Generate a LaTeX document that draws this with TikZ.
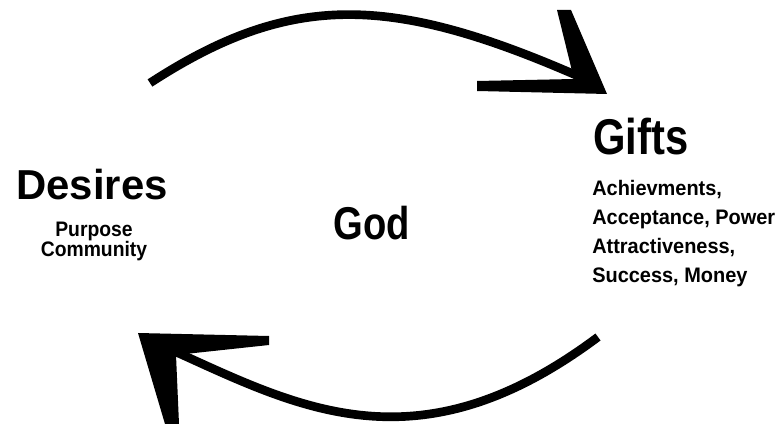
\documentclass[tikz,border=0pt]{standalone}
\usepackage{fontspec}
\usepackage{xcolor}
\usetikzlibrary{positioning}
\setmainfont{Liberation Sans}
\newfontfamily\condfont{Liberation Sans}[FakeStretch=0.83]
\newfontfamily\subfont{Liberation Sans}[FakeStretch=0.92]
\newfontfamily\listfont{Liberation Sans}[FakeStretch=0.95]
\definecolor{inkBlack}{RGB}{0,0,0}
\tikzset{
    headlabel/.style={
        inner sep=0pt,
        text=inkBlack,
        font=\condfont\bfseries\fontsize{37.7}{40}\selectfont
    },
    sublabel/.style={
        inner sep=0pt,
        text=inkBlack,
        align=center,
        font=\subfont\bfseries\fontsize{15.75}{15}\selectfont
    },
    listlabel/.style={
        inner sep=0pt,
        text=inkBlack,
        align=left,
        font=\listfont\bfseries\fontsize{15.75}{21.75}\selectfont
    },
    cyclearrow/.style={line width=6.5pt, draw=inkBlack},
    arrowhead/.style={fill=inkBlack, draw=none}
}

\begin{document}
\begin{tikzpicture}[x=0.75pt, y=-0.75pt]
    \useasboundingbox (0,0) rectangle (782,427);
    % labels
    \node[headlabel, anchor=base, font=\bfseries\fontsize{31.4}{34}\selectfont] (desires) at (92,200) {Desires};
    \node[sublabel, anchor=north] (desiresSub) at (94,222) {Purpose\\Community};
    \node[headlabel, anchor=base, font=\condfont\bfseries\fontsize{34.5}{38}\selectfont] (god) at (372,240) {God};
    \node[headlabel, anchor=base west] (gifts) at (593,155) {Gifts};
    \node[listlabel, anchor=north west] (giftsList) at (592,180) {Achievments,\\Acceptance, Power\\Attractiveness,\\Success, Money};
    % upper arrow, desires to gifts
    \coordinate (topStart) at (150,83);
    \coordinate (topEnd) at (578,76);
    \draw[cyclearrow] (topStart) .. controls (290,-8) and (390,-6) .. (topEnd);
    \fill[arrowhead] (557,10) -- (571,10) -- (607,94) -- (477,91) -- (477,81) -- (574,79) -- cycle;
    % lower arrow, gifts back to desires
    \coordinate (botStart) at (598,337);
    \coordinate (botEnd) at (175,351.5);
    \draw[cyclearrow] (botStart) .. controls (419,471) and (300,408) .. (botEnd);
    \fill[arrowhead] (138,333) -- (269,336) -- (269,345) -- (176,355) -- (179,424) -- (165,424) -- cycle;
\end{tikzpicture}
\end{document}
